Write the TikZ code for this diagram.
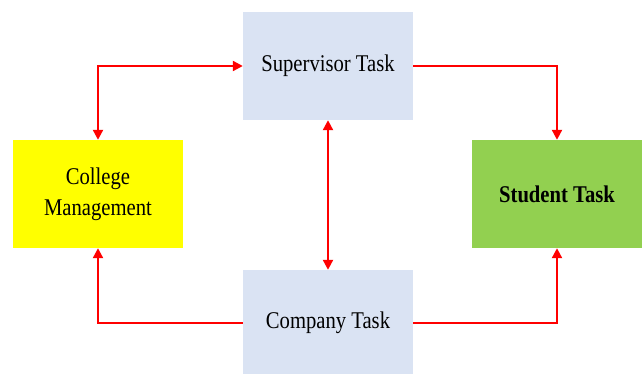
\documentclass[tikz,border=0pt]{standalone}
\usepackage{fontspec}
\setmainfont{Liberation Serif}[FakeStretch=0.86]
\usetikzlibrary{arrows.meta}
\definecolor{taskblue}{HTML}{DAE3F3}
\definecolor{taskgreen}{HTML}{92D050}
\definecolor{taskyellow}{HTML}{FFFF00}
\definecolor{linkred}{HTML}{FF0000}
\tikzset{
  task/.style={minimum width=170pt, minimum height=108pt, inner sep=0pt, align=center,
    font=\fontsize{24}{31}\selectfont},
  link/.style={linkred, line width=2.2pt}
}
\begin{document}
\begin{tikzpicture}[x=1pt,y=1pt,>={Triangle[length=10pt,width=10pt]}]
	\useasboundingbox (0,0) rectangle (642,373);
	\node[task, fill=taskblue] (sup) at (328,307) {Supervisor Task};
	\node[task, fill=taskyellow] (col) at (98,179) {College\\Management};
	\node[task, fill=taskgreen, font=\fontsize{24}{31}\selectfont\bfseries] (stu) at (557,179) {Student Task};
	\node[task, fill=taskblue, minimum height=106pt] (com) at (328,50) {Company Task};
	\draw[link,<->] (sup.west) -| (col.north);
	\draw[link,->] (sup.east) -| (stu.north);
	\draw[link,<->] (sup.south) -- (com.north);
	\draw[link,->] (com.west) -| (col.south);
	\draw[link,->] (com.east) -| (stu.south);
\end{tikzpicture}
\end{document}
